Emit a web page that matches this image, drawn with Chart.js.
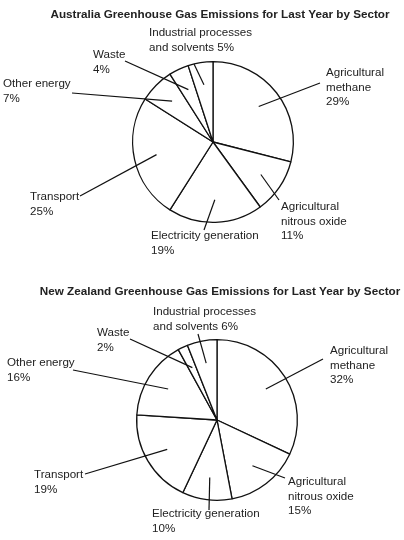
<!DOCTYPE html>
<html><head><meta charset="utf-8">
<script src="https://cdn.jsdelivr.net/npm/chart.js@4"></script>
<style>html,body{margin:0;padding:0;background:#fff;width:404px;height:540px;overflow:hidden}
.c{position:relative;width:404px;height:270px}</style></head>
<body><div class="c"><canvas id="au"></canvas></div><div class="c"><canvas id="nz"></canvas></div>
<script>
const sectors = ["Agricultural\nmethane", "Agricultural\nnitrous oxide", "Electricity generation", "Transport", "Other energy", "Waste", "Industrial processes\nand solvents"];
const australiaValues = [29, 11, 19, 25, 7, 4, 5];
const newZealandValues = [32, 15, 10, 19, 16, 2, 6];
const titles = ["Australia Greenhouse Gas Emissions for Last Year by Sector", "New Zealand Greenhouse Gas Emissions for Last Year by Sector"];

// layout: text x, first line y, leader outer end (x,y)
const auLayout = [
  {x:326,y:73,lx:320,ly:83},{x:281,y:207,lx:279,ly:200},{x:151,y:236,lx:204,ly:230},
  {x:30,y:197,lx:80,ly:196},{x:3,y:84,lx:72,ly:93},{x:93,y:55,lx:125,ly:61},{x:149,y:33,lx:194,ly:64}];
const nzLayout = [
  {x:330,y:81,lx:323,ly:89},{x:288,y:212,lx:285,ly:208},{x:152,y:244,lx:209,ly:240},
  {x:34,y:205,lx:85,ly:204},{x:7,y:93,lx:73,ly:100},{x:97,y:63,lx:130,ly:69},{x:153,y:42,lx:198,ly:64}];

function labelPlugin(title, titleY, layout, values){
  return {id:'lbl', afterDraw(chart){
    const ctx=chart.ctx; const meta=chart.getDatasetMeta(0);
    ctx.save();
    ctx.fillStyle='#222'; ctx.font='bold 11.7px "Liberation Sans", Arial, sans-serif';
    ctx.textAlign='center'; ctx.textBaseline='middle';
    ctx.fillText(title, 220, titleY);
    ctx.font='11.6px "Liberation Sans", Arial, sans-serif'; ctx.textAlign='left';
    ctx.strokeStyle='#111'; ctx.lineWidth=1.2;
    meta.data.forEach((arc,i)=>{
      const p=arc.getProps(['x','y','startAngle','endAngle','outerRadius'],true);
      const a=(p.startAngle+p.endAngle)/2, r=p.outerRadius*0.72;
      const L=layout[i];
      ctx.beginPath(); ctx.moveTo(L.lx,L.ly); ctx.lineTo(p.x+r*Math.cos(a), p.y+r*Math.sin(a)); ctx.stroke();
      const lines=sectors[i].split('\n');
      const pct=values[i]+'%';
      if(i===6){ lines[lines.length-1]+=' '+pct; } else lines.push(pct);
      lines.forEach((t,k)=>ctx.fillText(t, L.x, L.y+k*14.5));
    });
    ctx.restore();
  }};
}
function make(id, values, title, titleY, layout, pad){
  new Chart(document.getElementById(id), {
    type:'pie',
    data:{labels:sectors, datasets:[{data:values, backgroundColor:'#fff', borderColor:'#111', borderWidth:1.3}]},
    options:{responsive:true, maintainAspectRatio:false, animation:false,
      layout:{padding:pad},
      plugins:{legend:{display:false}, tooltip:{enabled:false}}},
    plugins:[labelPlugin(title, titleY, layout, values)]
  });
}
make('au', australiaValues, titles[0], 15, auLayout, {left:132,right:110,top:61,bottom:47});
make('nz', newZealandValues, titles[1], 22, nzLayout, {left:136,right:106,top:69,bottom:39});
</script></body></html>
